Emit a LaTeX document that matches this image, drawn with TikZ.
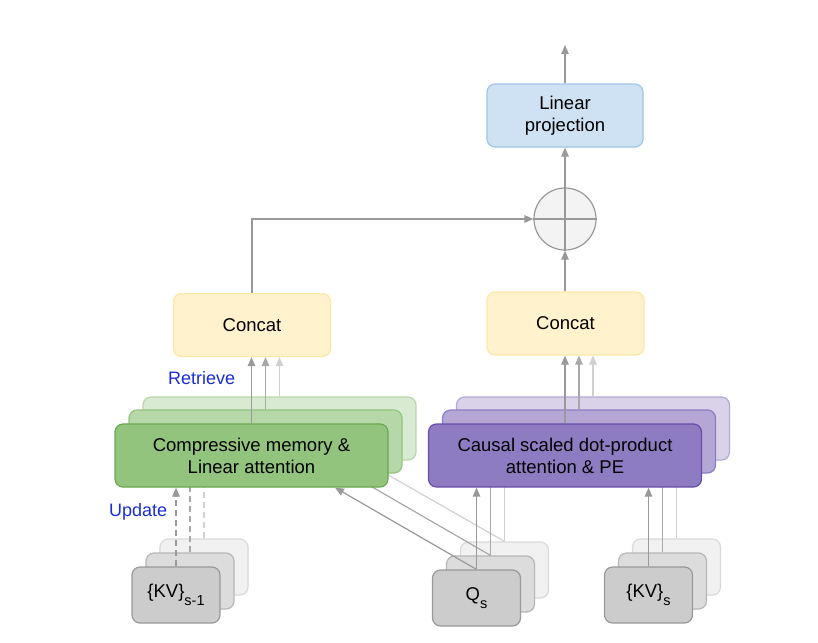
\documentclass[tikz,border=0pt]{standalone}
\usepackage{fontspec}
\setmainfont{Liberation Sans}
\usetikzlibrary{arrows.meta}
\definecolor{gfF}{HTML}{93C47D}\definecolor{gdF}{HTML}{6AA84F}
\definecolor{gfM}{HTML}{B6D7A8}\definecolor{gdM}{HTML}{93C47D}
\definecolor{gfB}{HTML}{D9EAD3}\definecolor{gdB}{HTML}{B6D7A8}
\definecolor{pfF}{HTML}{8E7CC3}\definecolor{pdF}{HTML}{674EA7}
\definecolor{pfM}{HTML}{B4A7D6}\definecolor{pdM}{HTML}{8E7CC3}
\definecolor{pfB}{HTML}{D9D2E9}\definecolor{pdB}{HTML}{B4A7D6}
\definecolor{kfF}{HTML}{CCCCCC}\definecolor{kdF}{HTML}{999999}
\definecolor{kfM}{HTML}{DCDCDC}\definecolor{kdM}{HTML}{B7B7B7}
\definecolor{kfB}{HTML}{F1F1F1}\definecolor{kdB}{HTML}{D9D9D9}
\definecolor{cfill}{HTML}{FFF2CC}\definecolor{cdraw}{HTML}{FCE8A6}
\definecolor{lfill}{HTML}{CFE2F3}\definecolor{ldraw}{HTML}{9FC5E8}
\definecolor{aF}{HTML}{999999}\definecolor{aM}{HTML}{A8A8A8}\definecolor{aB}{HTML}{D0D0D0}
\definecolor{lblue}{RGB}{25,45,215}
\definecolor{pfill}{HTML}{F3F3F3}
\newcommand{\mysub}[1]{\raisebox{-0.4em}{\fontsize{14.5}{14.5}\selectfont #1}}
\begin{document}
\begin{tikzpicture}[x=1pt,y=-1pt,
  box/.style={rounded corners=8pt, line width=1.2pt, align=center, inner sep=0pt,
    font=\fontsize{18.5}{22}\selectfont},
  wide/.style={box, minimum width=273pt, minimum height=63pt},
  small/.style={box, minimum width=88pt, minimum height=56pt},
  cat/.style={box, fill=cfill, draw=cdraw, minimum width=157pt, minimum height=63pt},
  gF/.style={wide, fill=gfF, draw=gdF}, gM/.style={wide, fill=gfM, draw=gdM}, gB/.style={wide, fill=gfB, draw=gdB},
  pF/.style={wide, fill=pfF, draw=pdF}, pM/.style={wide, fill=pfM, draw=pdM}, pB/.style={wide, fill=pfB, draw=pdB},
  kF/.style={small, fill=kfF, draw=kdF}, kM/.style={small, fill=kfM, draw=kdM}, kB/.style={small, fill=kfB, draw=kdB},
  arr/.style={-{Triangle[length=9pt,width=7.5pt]}, line width=1.2pt},
  arF/.style={arr, draw=aF}, arM/.style={arr, draw=aM}, arB/.style={arr, draw=aB},
  dsh/.style={dash pattern=on 6pt off 4pt},
  lbl/.style={text=lblue, font=\fontsize{18}{22}\selectfont, anchor=west, inner sep=0pt}
]
\useasboundingbox (0,0) rectangle (818,642);

% top part
\node[cat] (cL) at (252,325) {Concat};
\node[cat] (cR) at (565.5,323.5) {Concat};
\node[box, fill=lfill, draw=ldraw, minimum width=156pt, minimum height=63pt] (lin) at (565,115.5) {Linear\\projection};
\node[circle, draw=aF, fill=pfill, line width=1.2pt, minimum size=62pt, inner sep=0pt] (plus) at (565,219) {};
\draw[draw=aF, line width=1.2pt] (plus.north) -- (plus.south) (plus.west) -- (plus.east);
\coordinate (out) at (565,45);
\draw[arF] (cL.north) |- (plus.west);
\draw[arF] (cR.north -| plus.south) -- (plus.south);
\draw[arF] (plus.north) -- (lin.south);
\draw[arF] (lin.north) -- (out);

% back layer
\node[gB] (gb) at (279.5,428.5) {};
\node[pB] (pb) at (593,428.5) {};
\node[kB] (k1b) at (204,567) {};
\node[kB] (qb) at (504.5,570) {};
\node[kB] (k2b) at (676.5,567) {};
\draw[arB] (gb.north) -- (gb.north |- cL.south);
\draw[arB] (pb.north) -- (pb.north |- cR.south);
\draw[arB, dsh] (k1b.north) -- (k1b.north |- gb.south);
\draw[arB] (qb.north) -- (qb.north |- pb.south);
\draw[arB] (qb.north) -- ([xshift=83.5pt]gb.south);
\draw[arB] (k2b.north) -- (k2b.north |- pb.south);

% middle layer
\node[gM] (gm) at (265.5,441.5) {};
\node[pM] (pm) at (579,441.5) {};
\node[kM] (k1m) at (190,581) {};
\node[kM] (qm) at (490.5,584) {};
\node[kM] (k2m) at (662.5,581) {};
\draw[arM] (gm.north) -- (gm.north |- cL.south);
\draw[arM] (pm.north) -- (pm.north |- cR.south);
\draw[arM, dsh] (k1m.north) -- (k1m.north |- gm.south);
\draw[arM] (qm.north) -- (qm.north |- pm.south);
\draw[arM] (qm.north) -- ([xshift=83.5pt]gm.south);
\draw[arM] (k2m.north) -- (k2m.north |- pm.south);

% front layer
\node[gF] (gf) at (251.5,455.5) {Compressive memory \&\\Linear attention};
\node[pF] (pf) at (565,455.5) {Causal scaled dot-product\\attention \& PE};
\node[kF] (k1f) at (176,595) {\{KV\}\mysub{s-1}};
\node[kF] (qf) at (476.5,598) {Q\mysub{s}};
\node[kF] (k2f) at (648.5,595) {\{KV\}\mysub{s}};
\draw[arF] (gf.north) -- (gf.north |- cL.south);
\draw[arF] (pf.north) -- (pf.north |- cR.south);
\draw[arF, dsh] (k1f.north) -- (k1f.north |- gf.south);
\draw[arF] (qf.north) -- (qf.north |- pf.south);
\draw[arF] (qf.north) -- ([xshift=83.5pt]gf.south);
\draw[arF] (k2f.north) -- (k2f.north |- pf.south);

% labels
\node[lbl] (ret) at (168,378) {Retrieve};
\node[lbl] (upd) at (109,512) {Update};
\end{tikzpicture}
\end{document}
